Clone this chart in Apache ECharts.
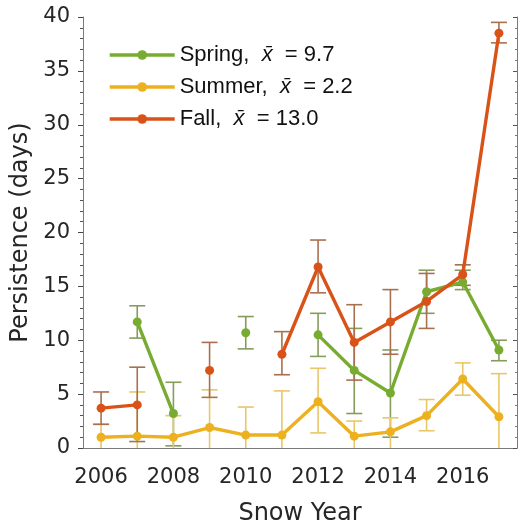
<!DOCTYPE html>
<html>
<head>
<meta charset="utf-8">
<script src="https://cdn.jsdelivr.net/npm/echarts@6/dist/echarts.min.js"></script>
<style>
  html, body { margin: 0; padding: 0; background: #fff; }
  #chart { width: 520px; height: 527px; }
</style>
</head>
<body>
<div id="chart"></div>
<script>
// snow years on the x axis
const years = ['2006', '2007', '2008', '2009', '2010', '2011', '2012', '2013', '2014', '2015', '2016', '2017'];

// persistence (days), null = no value that year
const spring = [null, 11.7, 3.2, null, 10.7, null, 10.5, 7.2, 5.1, 14.5, 15.4, 9.1];
const springLow = [null, 10.2, 0.2, null, 9.2, null, 8.5, 3.2, 1.0, 12.5, 14.7, 8.1];
const springHigh = [null, 13.2, 6.1, null, 12.2, null, 12.5, 11.1, 9.1, 16.5, 16.5, 10.0];

// lows below zero run off the bottom of the axes (no cap shown)
const summer = [1.0, 1.1, 1.0, 1.9, 1.2, 1.2, 4.3, 1.1, 1.5, 3.0, 6.4, 2.9];
const summerLow = [-1, -1, -1, -1, -1, -1, 1.4, -1, -1, 1.6, 4.9, -1];
const summerHigh = [2.2, 5.2, 3.0, 5.4, 3.8, 5.3, 7.4, 2.5, 2.8, 4.5, 7.9, 6.9];

const fall = [3.7, 4.0, null, 7.2, null, 8.7, 16.8, 9.8, 11.7, 13.6, 16.1, 38.5];
const fallLow = [2.2, 0.6, null, 4.7, null, 6.8, 14.4, 6.3, 8.7, 11.1, 15.1, 37.6];
const fallHigh = [5.2, 7.5, null, 9.8, null, 10.8, 19.3, 13.3, 14.7, 16.2, 17.0, 39.5];

const seasons = ['Spring', 'Summer', 'Fall'];
const means = ['9.7', '2.2', '13.0'];

const colors = ['#77AC30', '#EDB120', '#D95319'];
const errColors = ['#869c5c', '#e9c768', '#a9704f'];

const chart = echarts.init(document.getElementById('chart'));

// turn null into '-' so the line breaks there
function lineData(vals) {
    return vals.map(v => (v == null ? '-' : v));
}

function errData(low, high) {
    const out = [];
    low.forEach((lo, i) => {
        if (lo != null) out.push([i, lo, high[i]]);
    });
    return out;
}

function errSeries(low, high, color) {
    return {
        type: 'custom',
        z: 1,
        silent: true,
        data: errData(low, high),
        encode: { x: 0, y: [1, 2] },
        renderItem: (params, api) => {
            const cs = params.coordSys;
            const floor = cs.y + cs.height;
            const top = api.coord([api.value(0), api.value(2)]);
            const bot = api.coord([api.value(0), api.value(1)]);
            const clipped = bot[1] > floor;
            const yb = clipped ? floor : bot[1];
            const w = 8;
            const style = { stroke: color, lineWidth: 1.6 };
            const kids = [
                { type: 'line', shape: { x1: top[0], y1: top[1], x2: bot[0], y2: yb }, style },
                { type: 'line', shape: { x1: top[0] - w, y1: top[1], x2: top[0] + w, y2: top[1] }, style }
            ];
            if (!clipped) {
                kids.push({ type: 'line', shape: { x1: bot[0] - w, y1: yb, x2: bot[0] + w, y2: yb }, style });
            }
            return { type: 'group', children: kids };
        }
    };
}

function lineSeries(name, vals, color) {
    return {
        name: name,
        type: 'line',
        z: 3,
        data: lineData(vals),
        symbol: 'circle',
        symbolSize: 9,
        connectNulls: false,
        lineStyle: { color: color, width: 3.4 },
        itemStyle: { color: color }
    };
}

const axisGray = '#7a7a7a';
const textDark = '#262626';
const axisFont = 'DejaVu Sans';

const option = {
    animation: false,
    backgroundColor: '#fff',
    grid: { left: 83, right: 3, top: 17, bottom: 79, outerBoundsMode: 'none' },
    legend: {
        orient: 'vertical',
        left: 108,
        top: 44,
        padding: 0,
        itemWidth: 65,
        itemHeight: 12,
        itemGap: 10,
        data: seasons,
        lineStyle: { width: 3.4 },
        formatter: name => {
            const i = seasons.indexOf(name);
            return name + ',  {x|x\u0304}  = ' + means[i];
        },
        textStyle: {
            fontFamily: 'Liberation Sans, Arial',
            fontSize: 22,
            color: '#111',
            rich: {
                x: { fontFamily: 'Liberation Sans, Arial', fontSize: 22, fontStyle: 'italic', color: '#111' }
            }
        }
    },
    xAxis: [
        {
            type: 'category',
            data: years,
            boundaryGap: true,
            name: 'Snow Year',
            nameLocation: 'middle',
            nameGap: 54,
            nameTextStyle: { fontFamily: axisFont, fontSize: 24, color: textDark },
            axisLine: { lineStyle: { color: axisGray, width: 1 } },
            axisTick: { alignWithLabel: true, interval: 0, length: 5, lineStyle: { color: '#444' } },
            axisLabel: { interval: 1, margin: 19, fontFamily: axisFont, fontSize: 21, color: textDark },
            splitLine: { show: false }
        },
        {
            type: 'category',
            data: years,
            position: 'top',
            boundaryGap: true,
            axisLine: { lineStyle: { color: axisGray, width: 1 } },
            axisTick: { alignWithLabel: true, interval: 0, length: 5, lineStyle: { color: '#444' } },
            axisLabel: { show: false },
            splitLine: { show: false }
        }
    ],
    yAxis: [
        {
            type: 'value',
            min: 0,
            max: 40,
            interval: 5,
            name: 'Persistence (days)',
            nameLocation: 'middle',
            nameRotate: 90,
            nameGap: 50,
            nameTextStyle: { fontFamily: axisFont, fontSize: 24, color: textDark },
            axisLine: { show: true, lineStyle: { color: axisGray, width: 1 } },
            axisTick: { show: true, length: 5, lineStyle: { color: '#444' } },
            minorTick: { show: true, splitNumber: 5, length: 3, lineStyle: { color: '#555' } },
            axisLabel: { margin: 13, fontFamily: axisFont, fontSize: 21, color: textDark },
            splitLine: { show: false }
        },
        {
            type: 'value',
            position: 'right',
            min: 0,
            max: 40,
            interval: 5,
            axisLine: { show: true, lineStyle: { color: axisGray, width: 1 } },
            axisTick: { show: true, inside: true, length: 4, lineStyle: { color: '#555' } },
            minorTick: { show: true, splitNumber: 5, length: 2, lineStyle: { color: '#777' } },
            axisLabel: { show: false },
            splitLine: { show: false }
        }
    ],
    series: [
        errSeries(springLow, springHigh, errColors[0]),
        errSeries(summerLow, summerHigh, errColors[1]),
        errSeries(fallLow, fallHigh, errColors[2]),
        lineSeries(seasons[0], spring, colors[0]),
        lineSeries(seasons[1], summer, colors[1]),
        lineSeries(seasons[2], fall, colors[2])
    ]
};

chart.setOption(option);
</script>
</body>
</html>
